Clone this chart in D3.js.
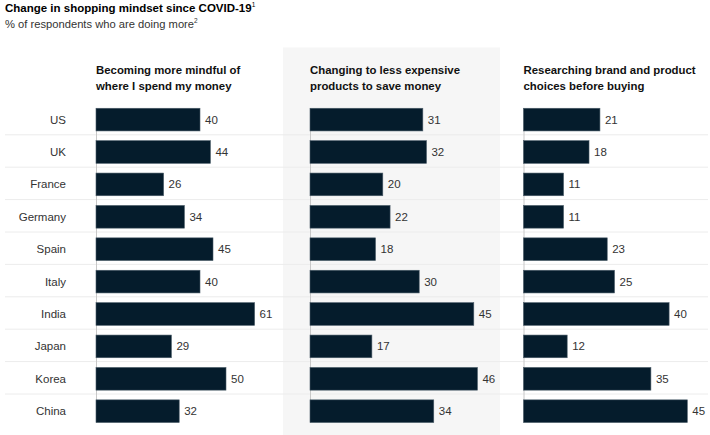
<!DOCTYPE html>
<html>
<head>
<meta charset="utf-8">
<script src="https://cdn.jsdelivr.net/npm/d3@7"></script>
<style>
  body { margin: 0; background: #fff; }
  svg { font-family: "Liberation Sans", Arial, sans-serif; }
</style>
</head>
<body>
<svg id="chart" width="710" height="435"></svg>
<script>
// chart data
const countries = ["US", "UK", "France", "Germany", "Spain", "Italy", "India", "Japan", "Korea", "China"];
const mindful = [40, 44, 26, 34, 45, 40, 61, 29, 50, 32];
const cheaper = [31, 32, 20, 22, 18, 30, 45, 17, 46, 34];
const research = [21, 18, 11, 11, 23, 25, 40, 12, 35, 45];
const panelTitles = [
  ["Becoming more mindful of", "where I spend my money"],
  ["Changing to less expensive", "products to save money"],
  ["Researching brand and product", "choices before buying"]
];

const panels = [mindful, cheaper, research].map((values, i) => ({ values, title: panelTitles[i] }));

const svg = d3.select("#chart");
const panelX = [96, 310, 523.5];
const panelW = 182;

// rows
const y = d3.scaleBand()
  .domain(countries)
  .range([103.4, 427.4])
  .paddingInner(0.3)
  .paddingOuter(0.15);

// shaded middle panel
svg.append("rect")
  .attr("x", 283).attr("y", 47.5)
  .attr("width", 217).attr("height", 400)
  .attr("fill", "#f6f6f6");

// title
const title = svg.append("text")
  .attr("x", 5).attr("y", 12)
  .attr("font-size", 11.5).attr("font-weight", "bold").attr("fill", "#000");
title.append("tspan").text("Change in shopping mindset since COVID-19");
title.append("tspan").text("1").attr("font-size", 6.5).attr("dy", -5).attr("font-weight", "normal");

const sub = svg.append("text")
  .attr("x", 5).attr("y", 27.5)
  .attr("font-size", 11.2).attr("fill", "#333");
sub.append("tspan").text("% of respondents who are doing more");
sub.append("tspan").text("2").attr("font-size", 6.5).attr("dy", -5);

// row separators
svg.selectAll("line.sep")
  .data(countries.slice(1))
  .enter()
  .append("line")
    .attr("class", "sep")
    .attr("x1", 5).attr("x2", 708)
    .attr("y1", d => y(d) - y.step() * y.paddingInner() / 2 - 1)
    .attr("y2", d => y(d) - y.step() * y.paddingInner() / 2 - 1)
    .attr("stroke", "#ececec").attr("stroke-width", 1);

// country labels
svg.selectAll("text.country")
  .data(countries)
  .enter()
  .append("text")
    .attr("class", "country")
    .attr("x", 66)
    .attr("y", d => y(d) + y.bandwidth() / 2)
    .attr("dy", "0.35em")
    .attr("text-anchor", "end")
    .attr("font-size", 11.5)
    .attr("fill", "#333")
    .text(d => d);

panels.forEach((p, i) => {
  const x0 = panelX[i];
  const x = d3.scaleLinear()
    .domain([0, Math.ceil(d3.max(p.values) / 10) * 10])
    .range([0, panelW]);

  const g = svg.append("g").attr("transform", `translate(${x0},0)`);

  g.selectAll("text.ptitle")
    .data(p.title)
    .enter()
    .append("text")
      .attr("class", "ptitle")
      .attr("x", 0)
      .attr("y", (d, j) => 73.5 + j * 16.8)
      .attr("font-size", 11.4)
      .attr("font-weight", "bold")
      .attr("fill", "#111")
      .text(d => d);

  // baseline
  g.append("line")
    .attr("x1", 0.5).attr("x2", 0.5)
    .attr("y1", y(countries[0])).attr("y2", y(countries[countries.length - 1]) + y.bandwidth())
    .attr("stroke", "#c8c8c8");

  g.selectAll("rect.bar")
    .data(p.values)
    .enter()
    .append("rect")
      .attr("class", "bar")
      .attr("x", 0)
      .attr("y", (d, j) => y(countries[j]))
      .attr("width", d => x(d))
      .attr("height", y.bandwidth())
      .attr("fill", "#051c2c")
      .attr("stroke", "#4a5b68")
      .attr("stroke-width", 0.6);

  g.selectAll("text.val")
    .data(p.values)
    .enter()
    .append("text")
      .attr("class", "val")
      .attr("x", d => x(d) + 5)
      .attr("y", (d, j) => y(countries[j]) + y.bandwidth() / 2)
      .attr("dy", "0.35em")
      .attr("font-size", 11.5)
      .attr("fill", "#333")
      .text(d => d);
});
</script>
</body>
</html>
